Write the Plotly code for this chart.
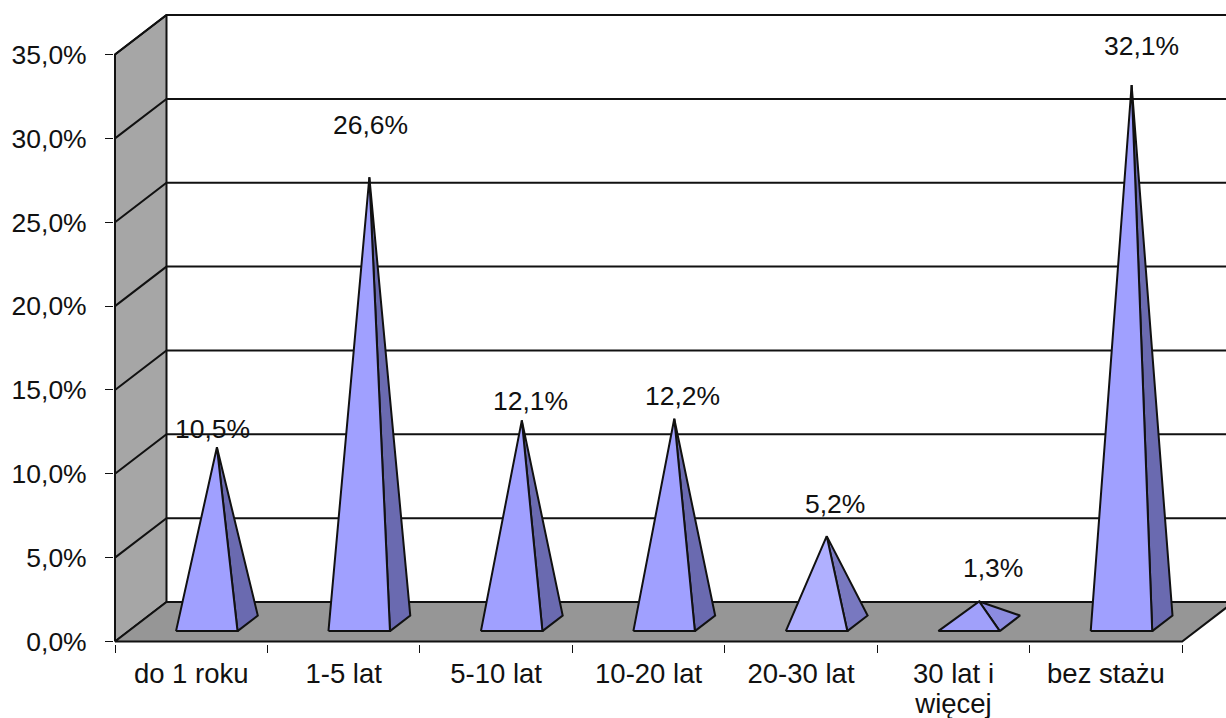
import plotly.graph_objects as go

categories = ["do 1 roku", "1-5 lat", "5-10 lat", "10-20 lat", "20-30 lat", "30 lat i<br>więcej", "bez stażu"]
values = [10.5, 26.6, 12.1, 12.2, 5.2, 1.3, 32.1]
y_ticks = [0, 5, 10, 15, 20, 25, 30, 35]
y_tick_labels = ["0,0%", "5,0%", "10,0%", "15,0%", "20,0%", "25,0%", "30,0%", "35,0%"]
front_colors = ["#A0A0FF", "#A0A0FF", "#A0A0FF", "#A0A0FF", "#B0B0FF", "#A0A0FA", "#A0A0FF"]
side_colors = ["#6A6AB0", "#6A6AB0", "#6A6AB0", "#6A6AB0", "#7878C0", "#8C8CE0", "#6A6AB0"]
label_dx = [-4, 1, 9, 8, 8, 14, 10]
label_dy = [18, 52, 19, 23, 32, 34, 39]

PX_X = 152.45     # pixels per category
PX_Y = 16.77      # pixels per percentage point
DEPTH_X = 51.5 / PX_X
DEPTH_Y = 39.5 / PX_Y
W, H = 1226, 718
PLOT_L, PLOT_T, PLOT_B = 114, 12, 644
ZERO_PX, LEFT_PX = 641.5, 115

x_range = [-0.5 - (LEFT_PX - PLOT_L) / PX_X, -0.5 + (W - LEFT_PX) / PX_X]
y_range = [-(PLOT_B - ZERO_PX) / PX_Y, (ZERO_PX - PLOT_T) / PX_Y]
LINE = dict(color="#111111", width=2)
FONT = dict(family="Liberation Sans, Arial, sans-serif", size=26.5, color="#111111")
# the tick font size sets the line spacing of the wrapped label; the span sets the glyph size
XFONT = dict(family="Liberation Sans, Arial, sans-serif", size=23, color="#111111")
X_GLYPH_SIZE = 27.5


def proj(x, v, d):
    return x + d * DEPTH_X, v + d * DEPTH_Y


def poly(points, fill=None, line=LINE):
    xs = [p[0] for p in points]
    ys = [p[1] for p in points]
    kw = dict(fill="toself", fillcolor=fill) if fill else {}
    return go.Scatter(x=xs, y=ys, mode="lines", line=line, showlegend=False, hoverinfo="skip", **kw)


def sized(label):
    return "<br>".join(f'<span style="font-size:{X_GLYPH_SIZE}px">{part}</span>' for part in label.split("<br>"))


fig = go.Figure()
x0, x1 = -0.5, len(categories) - 0.5
top = y_ticks[-1]

# side wall and floor
fig.add_trace(poly([proj(x0, 0, 0), proj(x0, top, 0), proj(x0, top, 1), proj(x0, 0, 1), proj(x0, 0, 0)], "#A6A6A6"))
fig.add_trace(poly([proj(x0, 0, 0), proj(x1, 0, 0), proj(x1, 0, 1), proj(x0, 0, 1), proj(x0, 0, 0)], "#969696"))

# gridlines wrapping wall and back plane
for t in y_ticks[1:]:
    fig.add_trace(poly([proj(x0, t, 0), proj(x0, t, 1), proj(x1, t, 1)]))

# pyramids
BAR_W = 61.5 / PX_X
D_FRONT, D_BACK = 0.263, 0.657
SHIFT = 2 / PX_X
apexes = []
for i, v in enumerate(values):
    c = i + SHIFT
    fl = proj(c - BAR_W / 2, 0, D_FRONT)
    fr = proj(c + BAR_W / 2, 0, D_FRONT)
    br = proj(c + BAR_W / 2, 0, D_BACK)
    apex = proj(c, v, (D_FRONT + D_BACK) / 2)
    apexes.append(apex)
    fig.add_trace(poly([fr, br, apex, fr], side_colors[i]))
    fig.add_trace(poly([fl, fr, apex, fl], front_colors[i]))

for i, v in enumerate(values):
    fig.add_annotation(
        x=apexes[i][0], y=apexes[i][1], text=f"{v:.1f}%".replace(".", ","),
        showarrow=False, xshift=label_dx[i], yshift=label_dy[i], font=FONT,
        xanchor="center", yanchor="middle",
    )

boundaries = [x0 + i for i in range(len(categories) + 1)]
fig.update_layout(
    width=W, height=H, autosize=False,
    margin=dict(l=PLOT_L, r=0, t=PLOT_T, b=H - PLOT_B, pad=0),
    paper_bgcolor="white", plot_bgcolor="white",
    separators=",.", showlegend=False, font=FONT,
    xaxis=dict(
        range=x_range, showgrid=False, zeroline=False, showline=False, automargin=False,
        tickmode="array", tickvals=list(range(len(categories))), ticktext=[sized(c) for c in categories],
        ticks="", ticklen=0, tickfont=XFONT, fixedrange=True, ticklabelstandoff=15,
        minor=dict(tickmode="array", tickvals=boundaries, ticks="outside", ticklen=8, tickwidth=1.4, tickcolor="#111111", showgrid=False),
    ),
    yaxis=dict(
        range=y_range, showgrid=False, zeroline=False, showline=False, automargin=False,
        tickmode="array", tickvals=y_ticks, ticktext=y_tick_labels,
        ticks="outside", ticklen=8, tickwidth=1.4, tickcolor="#111111", tickfont=FONT, fixedrange=True,
        ticklabelstandoff=13,
    ),
)
fig.write_html("out.html", config=dict(displayModeBar=False), post_script="document.body.style.margin='0';")
